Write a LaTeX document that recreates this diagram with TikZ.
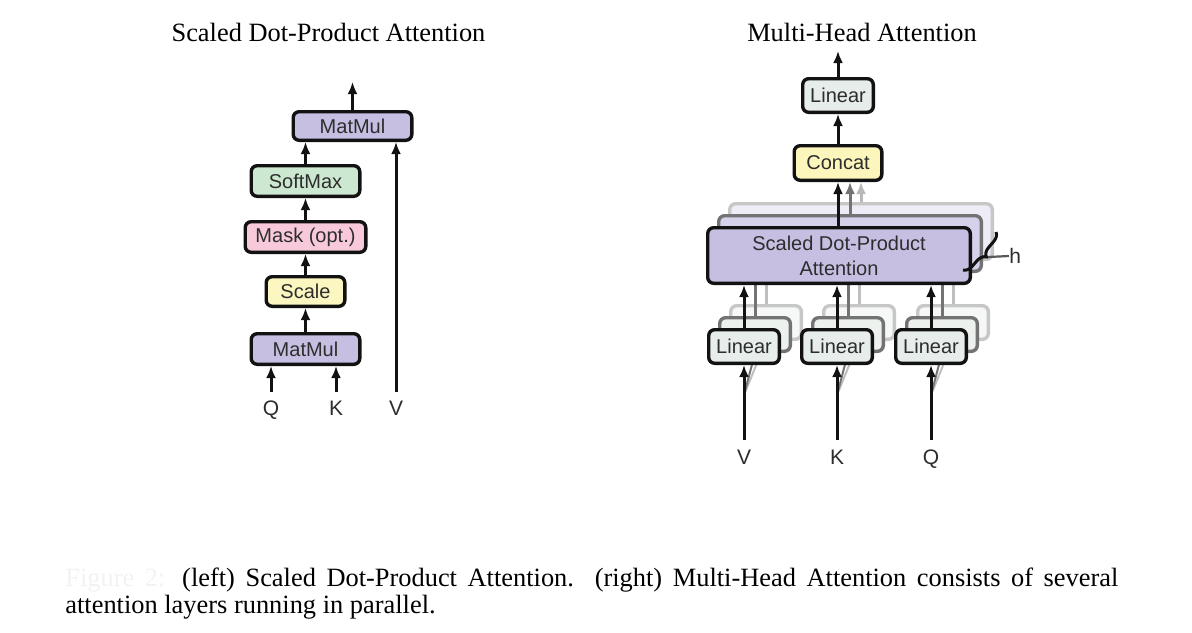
\documentclass[tikz,border=0pt]{standalone}
\usepackage{fontspec}
\setmainfont{Liberation Serif}
\setsansfont{Liberation Sans}
\usetikzlibrary{arrows.meta,decorations.pathreplacing}
\definecolor{mmfill}{RGB}{198,191,226}
\definecolor{smfill}{RGB}{205,232,208}
\definecolor{mkfill}{RGB}{247,201,218}
\definecolor{scfill}{RGB}{252,247,192}
\definecolor{linfill}{RGB}{231,237,234}
\definecolor{ccfill}{RGB}{252,245,188}
\definecolor{boxline}{RGB}{18,18,18}
\definecolor{txt}{RGB}{45,45,45}
\definecolor{faint}{RGB}{242,242,242}
\begin{document}
\begin{tikzpicture}[x=0.5pt,y=-0.5pt,
  box/.style={draw=boxline, line width=1.7pt, rounded corners=3pt, inner sep=0pt,
    font=\sffamily\fontsize{10}{12.5}\selectfont, text=txt, align=center},
  back2/.style={box, draw=black!55},
  back3/.style={box, draw=black!22},
  arr/.style={line width=1.5pt, draw=boxline, -{Latex[length=6pt,width=5pt]}},
  garr2/.style={line width=1.5pt, draw=black!55, -{Latex[length=6pt,width=5pt]}},
  garr3/.style={line width=1.5pt, draw=black!28, -{Latex[length=6pt,width=5pt]}},
  gline2/.style={line width=1.5pt, draw=black!55},
  gline3/.style={line width=1.5pt, draw=black!25},
  lbl/.style={inner sep=0pt, font=\sffamily\fontsize{10.5}{12}\selectfont, text=txt},
  serif/.style={inner sep=0pt, font=\fontsize{13.2}{14}\selectfont}]
\useasboundingbox (0,0) rectangle (1192,632);

% ---------- titles ----------
\node[serif, anchor=base] (t1) at (328.5,41.7) {Scaled Dot-Product Attention};
\node[serif, anchor=base] (t2) at (862,41.7) {Multi-Head Attention};

% ---------- left: scaled dot-product attention ----------
\node[box, fill=mmfill, minimum width=59.3pt, minimum height=14.3pt] (mmtop) at (352.5,126) {MatMul};
\node[box, fill=smfill, minimum width=54.3pt, minimum height=15.3pt] (sm) at (305.5,181) {SoftMax};
\node[box, fill=mkfill, minimum width=60.3pt, minimum height=15.3pt] (mask) at (305.5,237) {Mask (opt.)};
\node[box, fill=scfill, minimum width=39.3pt, minimum height=14.8pt] (scale) at (305.5,291.5) {Scale};
\node[box, fill=mmfill, minimum width=54.3pt, minimum height=15.3pt] (mmbot) at (305.5,349) {MatMul};

\coordinate (outL) at (352.5,82);
\coordinate (qin) at (271,392);
\coordinate (kin) at (336,392);
\coordinate (vinL) at (396,392);
\node[lbl, anchor=base] (qlab) at (271,415.5) {Q};
\node[lbl, anchor=base] (klab) at (336,415.5) {K};
\node[lbl, anchor=base] (vlabL) at (396,415.5) {V};

\draw[arr] (mmbot) -- (scale);
\draw[arr] (scale) -- (mask);
\draw[arr] (mask) -- (sm);
\draw[arr] (sm.north) -- (sm.north |- mmtop.south);
\draw[arr] (mmtop.north) -- (outL);
\draw[arr] (qin) -- (qin |- mmbot.south);
\draw[arr] (kin) -- (kin |- mmbot.south);
\draw[arr] (vinL) -- (vinL |- mmtop.south);

% ---------- right: multi-head attention ----------
% back layers of scaled dot-product attention
\node[back3, fill=mmfill!30!white, minimum width=131.3pt, minimum height=27.8pt] (s3) at (861,231.5) {};
\node[back2, fill=mmfill!72!white, minimum width=131.3pt, minimum height=27.8pt] (s2) at (850,243.5) {};

% back layers of the linear projections
\foreach \x/\n in {744/a,837/b,931/c}{
  \node[back3, fill=linfill!40!white, minimum width=35.3pt, minimum height=16.8pt] (l\n3) at (\x+22,322.5) {};
}
\foreach \x/\n in {744/a,837/b,931/c}{
  \node[back2, fill=linfill!80!white, minimum width=35.3pt, minimum height=16.8pt] (l\n2) at (\x+11,334.5) {};
}
% gray connectors of the back layers
\foreach \n in {a,b,c}{
  \draw[gline3] (l\n3.north) -- (l\n3.north |- s3.south);
  \draw[gline2] (l\n2.north) -- (l\n2.north |- s2.south);
}
\coordinate (wa) at (744,395);
\coordinate (wb) at (837,395);
\coordinate (wc) at (931,395);
\foreach \n in {a,b,c}{
  \draw[black!25, line width=1pt] (w\n) -- (l\n3.south);
  \draw[black!55, line width=1pt] (w\n) -- (l\n2.south);
}

% front layers
\node[box, fill=linfill, minimum width=35.3pt, minimum height=16.8pt] (la) at (744,346.5) {Linear};
\node[box, fill=linfill, minimum width=35.3pt, minimum height=16.8pt] (lb) at (837,346.5) {Linear};
\node[box, fill=linfill, minimum width=35.3pt, minimum height=16.8pt] (lc) at (931,346.5) {Linear};
\node[box, fill=mmfill, minimum width=131.3pt, minimum height=27.8pt] (sdpa) at (839,255.5) {Scaled Dot-Product\\Attention};
\node[box, fill=ccfill, minimum width=43.8pt, minimum height=17.3pt] (concat) at (838,163) {Concat};
\node[box, fill=linfill, minimum width=35.3pt, minimum height=16.8pt] (lout) at (838,95.5) {Linear};

\coordinate (outR) at (838,51);
\coordinate (vin) at (744,440);
\coordinate (kinR) at (837,440);
\coordinate (qinR) at (931,440);
\node[lbl, anchor=base] (vlab) at (744,464.5) {V};
\node[lbl, anchor=base] (klabR) at (837,464.5) {K};
\node[lbl, anchor=base] (qlabR) at (931,464.5) {Q};

\draw[arr] (vin) -- (la.south);
\draw[arr] (kinR) -- (lb.south);
\draw[arr] (qinR) -- (lc.south);
\draw[arr] (la.north) -- (la.north |- sdpa.south);
\draw[arr] (lb.north) -- (lb.north |- sdpa.south);
\draw[arr] (lc.north) -- (lc.north |- sdpa.south);
\draw[garr3] (s3.north) -- (s3.north |- concat.south);
\draw[garr2] (s2.north) -- (s2.north |- concat.south);
\draw[arr] (sdpa.north -| concat.south) -- (concat.south);
\draw[arr] (concat) -- (lout);
\draw[arr] (lout.north) -- (outR);

% brace for h
\coordinate (bt) at (996,232);
\coordinate (bb) at (963,270);
\draw[boxline, line width=1.5pt, decorate, decoration={brace, amplitude=4.5pt}] (bt) -- (bb);
\coordinate (tk) at (988,257);
\node[lbl, anchor=west] (hlab) at (1009,256) {h};
\draw[black!65, line width=1.1pt] (tk) -- (hlab.west);

% ---------- caption ----------
\node[serif, anchor=base west] (cap1) at (65,586.5)
  {\makebox[526.5pt][s]{{\color{faint}Figure~2:} (left) Scaled Dot-Product Attention. (right) Multi-Head Attention consists of several}};
\node[serif, anchor=base west] (cap2) at (65,613) {attention layers running in parallel.};
\end{tikzpicture}
\end{document}
